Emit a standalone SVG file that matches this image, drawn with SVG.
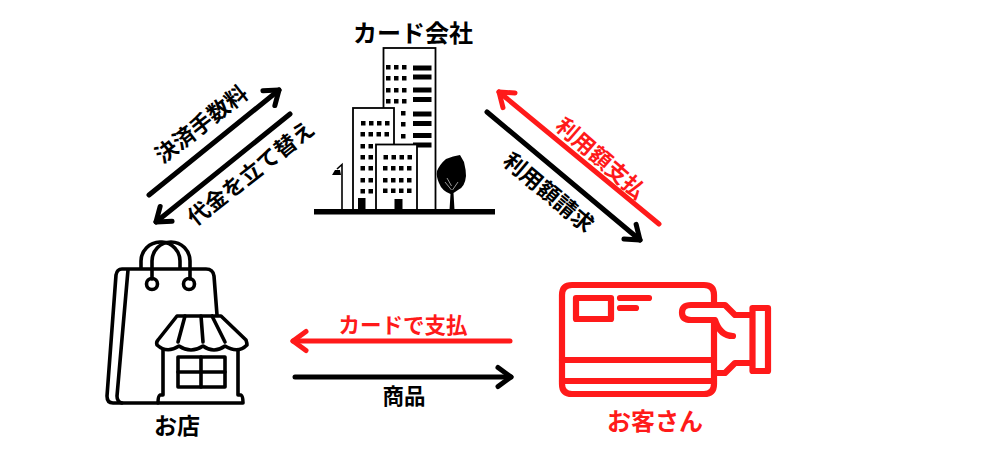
<svg xmlns="http://www.w3.org/2000/svg" width="1000" height="470" viewBox="0 0 1000 470">
<style>
text{font-family:"Noto Sans CJK JP","Noto Sans",sans-serif;font-weight:700;text-anchor:middle;dominant-baseline:central}
.k{fill:#000}.r{fill:#ff1a1a}
.a{fill:none;stroke-width:5;stroke-linecap:round}
.ak{stroke:#000}.ar{stroke:#ff1a1a}
.b{fill:#fff;stroke:#000;stroke-width:1.8}
.s{fill:none;stroke:#000;stroke-width:3.6;stroke-linecap:round;stroke-linejoin:round}
.c{fill:none;stroke:#ff1a1a;stroke-width:6.2;stroke-linecap:round;stroke-linejoin:round}
</style>
<defs>
<marker id="hk" markerUnits="userSpaceOnUse" markerWidth="34" markerHeight="34" refX="17" refY="17" orient="auto" overflow="visible"><path d="M4,7.5 L17,17 L4,26.5" fill="none" stroke="#000" stroke-width="5" stroke-linecap="round" stroke-linejoin="round"/></marker>
<marker id="hr" markerUnits="userSpaceOnUse" markerWidth="34" markerHeight="34" refX="17" refY="17" orient="auto" overflow="visible"><path d="M4,7.5 L17,17 L4,26.5" fill="none" stroke="#ff1a1a" stroke-width="5" stroke-linecap="round" stroke-linejoin="round"/></marker>
</defs>
<rect width="1000" height="470" fill="#fff"/>
<g id="connectors">
<line class="a ak" x1="149" y1="195" x2="279" y2="90" marker-end="url(#hk)"/>
<line class="a ak" x1="290" y1="114" x2="156" y2="222" marker-end="url(#hk)"/>
<line class="a ar" x1="659" y1="224" x2="499" y2="92" marker-end="url(#hr)"/>
<line class="a ak" x1="487" y1="112" x2="640" y2="240" marker-end="url(#hk)"/>
<line class="a ar" x1="510" y1="341" x2="293" y2="341" marker-end="url(#hr)"/>
<line class="a ak" x1="295" y1="377" x2="511" y2="377" marker-end="url(#hk)"/>
</g>
<g id="labels">
<text class="k" x="200" y="122.500" font-size="22" transform="rotate(-38 200 122.500)">決済手数料</text>
<text class="k" x="249.500" y="171.500" font-size="22" transform="rotate(-38 249.500 171.500)">代金を立て替え</text>
<text class="r" x="602" y="156.500" font-size="22" transform="rotate(41 602 156.500)">利用額支払</text>
<text class="k" x="550" y="191" font-size="22" transform="rotate(40 550 191)">利用額請求</text>
<text class="r" x="403" y="323" font-size="21.500">カードで支払</text>
<text class="k" x="404" y="394.500" font-size="21.500">商品</text>
</g>
<g id="card-company">
<text class="k" x="413" y="31.500" font-size="24">カード会社</text>
<rect class="b" x="383.500" y="48" width="52" height="162"/>
<g fill="#000">
<path d="M386,65h4.500v4.500h-4.500zM394,65h4.500v4.500h-4.500zM402,65h4.500v4.500h-4.500zM386,76h4.500v4.500h-4.500zM394,76h4.500v4.500h-4.500zM402,76h4.500v4.500h-4.500zM386,88h4.500v4.500h-4.500zM394,88h4.500v4.500h-4.500zM402,88h4.500v4.500h-4.500zM386,99h4.500v4.500h-4.500zM394,99h4.500v4.500h-4.500zM402,99h4.500v4.500h-4.500zM401,111h4.500v4.500h-4.500zM401,122h4.500v4.500h-4.500zM401,134h4.500v4.500h-4.500z"/>
<path d="M413,65.500h18.500v5h-18.500zM413,74.500h18.500v5h-18.500zM413,87.500h18.500v5h-18.500zM413,97h18.500v5h-18.500zM413,111.500h18.500v5h-18.500zM413,121h18.500v5h-18.500zM413,133h18.500v5h-18.500zM413,142.500h18.500v5h-18.500z"/>
</g>
<rect class="b" x="353" y="108" width="41" height="102"/>
<path fill="#000" d="M361,121h4.500v4.500h-4.500zM369,121h4.500v4.500h-4.500zM377,121h4.500v4.500h-4.500zM385,121h4.500v4.500h-4.500zM360.500,132h4.500v4.500h-4.500zM368.500,132h4.500v4.500h-4.500zM376.500,132h4.500v4.500h-4.500zM384.500,132h4.500v4.500h-4.500zM360.500,144h4.500v4.500h-4.500zM368.500,144h4.500v4.500h-4.500zM360.500,155h4.500v4.500h-4.500zM368.500,155h4.500v4.500h-4.500zM360.500,166h4.500v4.500h-4.500zM368.500,166h4.500v4.500h-4.500zM360.500,178h4.500v4.500h-4.500zM368.500,178h4.500v4.500h-4.500zM360.500,189h4.500v4.500h-4.500zM368.500,189h4.500v4.500h-4.500z"/>
<rect class="b" x="376" y="144.500" width="41" height="65.500"/>
<path fill="#000" d="M383.500,155h4.500v4.500h-4.500zM391.500,155h4.500v4.500h-4.500zM399.500,155h4.500v4.500h-4.500zM407.500,155h4.500v4.500h-4.500zM383,166h4.500v4.500h-4.500zM391,166h4.500v4.500h-4.500zM399,166h4.500v4.500h-4.500zM407,166h4.500v4.500h-4.500zM383,178h4.500v4.500h-4.500zM391,178h4.500v4.500h-4.500zM399,178h4.500v4.500h-4.500zM407,178h4.500v4.500h-4.500zM383,188.500h4.500v4.500h-4.500zM391,188.500h4.500v4.500h-4.500zM399,188.500h4.500v4.500h-4.500zM407,188.500h4.500v4.500h-4.500z"/>
<path fill="#000" d="M358,198h7.500v12h-7.500zM394.500,199h8v11h-8z"/>
<path fill="none" stroke="#000" stroke-width="1.600" d="M342,210V164.500L337,169"/>
<path fill="#000" d="M332,175l3,-5h5l1,5z"/>
<path fill="#000" d="M460,155L464,162Q466,170 466,176Q465,187 458,190L453.500,193L454.500,210H449.500L450.500,194Q442,191 439,183Q436,176 437,171Q440,164 446,159Q453,156 460,155Z"/>
<path fill="none" stroke="#fff" stroke-width=".6" d="M451.500,190L445,182M451.500,186L447,178M452.500,190L458,182"/>
<rect fill="#000" x="314" y="209" width="181" height="5.500"/>
</g>
<g id="shop">
<path class="s" d="M141,268V261A19.500,19,0,0,1,160,242H162A19,19,0,0,1,180,261V268"/>
<path class="s" d="M152,279V261A19,19,0,0,1,171,242A19,19,0,0,1,190,261V279"/>
<circle class="s" cx="152" cy="284" r="5.500"/>
<circle class="s" cx="189" cy="284" r="5.500"/>
<path class="s" d="M217,315L214,276Q213,269 206,269H122Q117,269 116,275L107,396Q107,403 113,403H158"/>
<path class="s" d="M128,270L117,396Q117,402 122,403"/>
<path class="s" d="M177,316H221L246,340Q247,343 247,345Q238,354 225,346Q214,354 203,346Q191,354 179,346Q167,354 157,345Q156,342 158,340Z"/>
<path class="s" d="M185,316L178,342M201,316L203,342M212,316L225,342"/>
<path class="s" d="M163,350V395H160Q158,396 158,403H243Q243,396 241,395H238V350"/>
<rect class="s" x="178" y="357" width="47" height="30"/>
<path class="s" d="M201,357V387M178,372H225"/>
<text class="k" x="177" y="424" font-size="23">お店</text>
</g>
<g id="customer">
<path class="c" d="M714,305V295Q714,285 704,285H572Q562,285 562,295V384Q562,394 572,394H704Q714,394 714,384V320"/>
<path class="c" d="M562,360H714M562,381H714"/>
<rect class="c" x="576" y="298" width="35" height="21"/>
<path class="c" d="M620,298H649M620,308H636"/>
<path class="c" d="M714,305H725L735,315H752M714,373H725L735,363H752"/>
<path class="c" d="M716,305H691Q682,305 682,312.500Q682,320 691,320H715Q720,336 733,336"/>
<rect class="c" x="752.500" y="308" width="15.500" height="63"/>
<text class="r" x="655" y="419.500" font-size="24">お客さん</text>
</g>
</svg>
